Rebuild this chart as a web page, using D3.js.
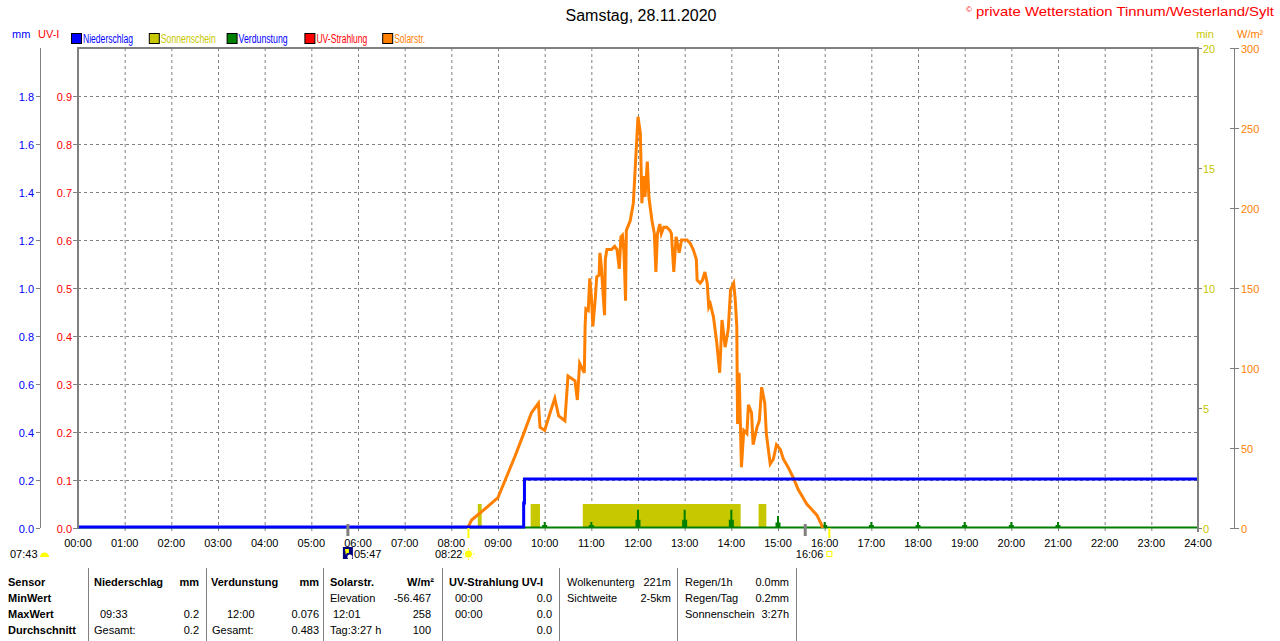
<!DOCTYPE html>
<html>
<head>
<meta charset="utf-8">
<script src="https://cdn.jsdelivr.net/npm/d3@7"></script>
<style>
body { margin: 0; background: #fff; }
svg { display: block; font-family: "Liberation Sans", Arial, sans-serif; font-size: 11px; }
</style>
</head>
<body>
<script>
const width = 1280
const height = 641

// Solarstrahlung, [Minute des Tages, W/m²]
const solar = [
  [501, 0], [506, 5], [521, 11], [540, 19], [551, 32], [562, 45], [573, 59], [583, 72],
  [592, 78], [594, 63], [600, 61], [607, 72], [613, 81], [618, 70], [626, 67], [630, 95],
  [639, 92], [642, 80], [645, 103], [651, 97], [652, 126], [653, 137], [656, 136], [658, 156],
  [660, 145], [662, 126], [665, 143], [667, 157], [670, 158], [671, 172], [673, 163], [675, 147],
  [677, 133], [678, 168], [680, 174], [686, 174], [690, 176], [693, 174], [696, 162], [698, 182],
  [700, 183], [702, 172], [704, 142], [705, 186], [710, 192], [714, 203], [717, 230], [720, 257],
  [723, 247], [725, 203], [727, 220], [729, 207], [732, 229], [734, 207], [735, 203], [738, 192],
  [741, 184], [743, 160], [745, 184], [748, 190], [750, 184], [753, 188], [757, 188], [761, 186],
  [763, 184], [766, 160], [769, 182], [773, 172], [776, 180], [783, 180], [787, 178], [791, 174],
  [795, 168], [796, 155], [800, 153], [803, 155], [806, 160], [809, 153], [811, 138], [813, 140],
  [817, 132], [821, 117], [825, 97], [828, 130], [832, 113], [836, 124], [839, 149], [843, 153],
  [845, 143], [847, 126], [848, 65], [850, 97], [853, 38], [856, 61], [860, 59], [862, 77],
  [866, 72], [868, 52], [873, 63], [876, 67], [879, 88], [883, 78], [885, 59], [890, 40],
  [894, 43], [898, 52], [903, 49], [907, 43], [913, 38], [920, 31], [926, 24], [937, 15],
  [950, 8], [956, 2], [957, 0]
]

// Niederschlag (kumuliert), [Minute, mm]
const rain = [[0, 0], [572, 0], [573, 0.1], [574, 0.2], [1440, 0.2]]

// Sonnenschein, [von, bis, min]
const sunshine = [[514, 519, 1], [582, 594, 1], [649, 852, 1], [875, 885, 1]]

// Verdunstung pro Stunde, [Minute, mm]
const evap = [
  [600, 0.025], [660, 0.025], [720, 0.076], [780, 0.076], [840, 0.076], [900, 0.05],
  [960, 0.025], [1020, 0.025], [1080, 0.025], [1140, 0.025], [1200, 0.025], [1260, 0.025]
]

const mmTicks = [0, 0.2, 0.4, 0.6, 0.8, 1.0, 1.2, 1.4, 1.6, 1.8]
const uvTicks = [0, 0.1, 0.2, 0.3, 0.4, 0.5, 0.6, 0.7, 0.8, 0.9]
const minTicks = [0, 5, 10, 15, 20]
const wTicks = [0, 50, 100, 150, 200, 250, 300]
const hourTicks = d3.range(0, 25)

const legend = [
  { name: "Niederschlag", color: "#0000ff", text: "#0000ff", w: 50 },
  { name: "Sonnenschein", color: "#c8c800", text: "#c8c800", w: 55 },
  { name: "Verdunstung", color: "#008000", text: "#0000ff", w: 49 },
  { name: "UV-Strahlung", color: "#ff0000", text: "#ff0000", w: 51 },
  { name: "Solarstr.", color: "#ff8000", text: "#ff8000", w: 31 }
]

// Sonne / Mond
const sunrise = 502, sunset = 966
const moonMarks = [347, 935]

const tableRows = ["Sensor", "MinWert", "MaxWert", "Durchschnitt"]
const tableCells = [
  // [Zeile, Text, x, Ausrichtung, fett]
  [0, "Niederschlag", 94, "start", true], [0, "mm", 199, "end", true],
  [0, "Verdunstung", 211, "start", true], [0, "mm", 319, "end", true],
  [0, "Solarstr.", 330, "start", true], [0, "W/m²", 434, "end", true],
  [0, "UV-Strahlung UV-I", 449, "start", true],
  [0, "Wolkenunterg", 567, "start"], [0, "221m", 671, "end"],
  [0, "Regen/1h", 685, "start"], [0, "0.0mm", 789, "end"],
  [1, "Elevation", 330, "start"], [1, "-56.467", 431, "end"],
  [1, "00:00", 455, "start"], [1, "0.0", 552, "end"],
  [1, "Sichtweite", 567, "start"], [1, "2-5km", 671, "end"],
  [1, "Regen/Tag", 685, "start"], [1, "0.2mm", 789, "end"],
  [2, "09:33", 100, "start"], [2, "0.2", 199, "end"],
  [2, "12:00", 227, "start"], [2, "0.076", 319, "end"],
  [2, "12:01", 333, "start"], [2, "258", 431, "end"],
  [2, "00:00", 455, "start"], [2, "0.0", 552, "end"],
  [2, "Sonnenschein", 685, "start"], [2, "3:27h", 789, "end"],
  [3, "Gesamt:", 94, "start"], [3, "0.2", 199, "end"],
  [3, "Gesamt:", 212, "start"], [3, "0.483", 319, "end"],
  [3, "Tag:3:27 h", 330, "start"], [3, "100", 431, "end"],
  [3, "0.0", 552, "end"]
]
const tableSeps = [88, 206, 323, 442, 559, 677, 796]

const svg = d3.select("body").append("svg")
    .attr("width", width)
    .attr("height", height)

const pLeft = 78, pRight = 1198, pTop = 48, pBottom = 528
const grey = "#808080"

const x = d3.scaleLinear().domain([0, 1440]).range([pLeft, pRight])
const yMM = d3.scaleLinear().domain([0, 2]).range([pBottom, pTop])
const yUV = d3.scaleLinear().domain([0, 1]).range([pBottom, pTop])
const yMin = d3.scaleLinear().domain([0, 20]).range([pBottom, pTop])
const yW = d3.scaleLinear().domain([0, 300]).range([pBottom, pTop])

// Titel
svg.append("text").attr("x", 641).attr("y", 21).attr("text-anchor", "middle")
    .style("font-size", "16px").attr("textLength", 151).text("Samstag, 28.11.2020")
svg.append("text").attr("x", 1274).attr("y", 16).attr("text-anchor", "end")
    .attr("fill", "#ff0000").style("font-size", "13px")
    .attr("textLength", 298).attr("lengthAdjust", "spacingAndGlyphs")
    .text("private Wetterstation Tinnum/Westerland/Sylt")
svg.append("text").attr("x", 966).attr("y", 12).attr("fill", "#ff0000")
    .style("font-size", "8px").text("©")

// Einheiten
svg.append("text").attr("x", 12).attr("y", 38).attr("fill", "#0000ff").text("mm")
svg.append("text").attr("x", 38).attr("y", 38).attr("fill", "#ff0000").text("UV-I")
svg.append("text").attr("x", 1205).attr("y", 38).attr("text-anchor", "middle").attr("fill", "#c8c800").text("min")
svg.append("text").attr("x", 1237).attr("y", 38).attr("fill", "#ff8000").text("W/m²")

// Legende
legend.forEach((d, i) => {
  const lx = 71 + i * 77.8
  svg.append("rect").attr("x", lx + 0.5).attr("y", 33.5).attr("width", 10).attr("height", 10)
      .attr("fill", d.color).attr("stroke", "#000")
  svg.append("text").attr("x", lx + 12).attr("y", 42.5).attr("fill", d.text)
      .style("font-size", "12px")
      .attr("textLength", d.w).attr("lengthAdjust", "spacingAndGlyphs").text(d.name)
})

// Gitter
svg.append("g").selectAll("line").data(hourTicks.slice(1, 24)).join("line")
    .attr("x1", d => x(d * 60) + 0.5).attr("x2", d => x(d * 60) + 0.5)
    .attr("y1", pTop).attr("y2", pBottom + 4)
    .attr("stroke", grey).attr("stroke-dasharray", "3,3")
svg.append("g").selectAll("line").data(mmTicks.slice(1)).join("line")
    .attr("x1", pLeft).attr("x2", pRight)
    .attr("y1", d => yMM(d) + 0.5).attr("y2", d => yMM(d) + 0.5)
    .attr("stroke", grey).attr("stroke-dasharray", "3,3")

// Sonnenschein
svg.append("g").selectAll("rect").data(sunshine).join("rect")
    .attr("x", d => x(d[0])).attr("width", d => x(d[1]) - x(d[0]))
    .attr("y", d => yMin(d[2])).attr("height", d => yMin(0) - yMin(d[2]))
    .attr("fill", "#c8c800")

// Verdunstung
svg.append("line").attr("x1", pLeft).attr("x2", pRight).attr("y1", pBottom - 0.5).attr("y2", pBottom - 0.5)
    .attr("stroke", "#008000").attr("stroke-width", 2)
svg.append("g").selectAll("path").data(evap).join("path")
    .attr("fill", "#008000")
    .attr("d", d => {
      const cx = x(d[0]), h = yMM(0) - yMM(d[1]), lowH = Math.max(3, h * 0.45)
      return `M${cx - 2.5},${pBottom}V${pBottom - lowH}H${cx - 1}V${pBottom - h}H${cx + 1}V${pBottom - lowH}H${cx + 2.5}V${pBottom}Z`
    })

// Solarstrahlung
svg.append("path").datum(solar)
    .attr("fill", "none").attr("stroke", "#ff8000").attr("stroke-width", 3)
    .attr("d", d3.line().x(d => x(d[0])).y(d => yW(d[1])))

// Niederschlag
svg.append("path").datum(rain)
    .attr("fill", "none").attr("stroke", "#0000ff").attr("stroke-width", 3)
    .attr("d", d3.line().curve(d3.curveStepAfter).x(d => x(d[0])).y(d => yMM(d[1]) - 1))

// Rahmen
svg.append("path").attr("d", `M${pLeft},${pBottom}V${pTop}H${pRight}V${pBottom + 4}`)
    .attr("fill", "none").attr("stroke", grey).attr("stroke-width", 2)

// Achse mm
svg.append("line").attr("x1", 40.5).attr("x2", 40.5).attr("y1", pTop).attr("y2", pBottom)
    .attr("stroke", grey)
const gmm = svg.append("g").selectAll("g").data(mmTicks).join("g")
    .attr("transform", d => `translate(0,${yMM(d) + 0.5})`)
gmm.append("line").attr("x1", 36).attr("x2", 40).attr("stroke", grey)
gmm.append("text").attr("x", 34).attr("y", 4).attr("text-anchor", "end")
    .attr("fill", "#0000ff").text(d => d.toFixed(1))

// Achse UV-I
const guv = svg.append("g").selectAll("g").data(uvTicks).join("g")
    .attr("transform", d => `translate(0,${yUV(d) + 0.5})`)
guv.append("line").attr("x1", 73).attr("x2", 78).attr("stroke", grey)
guv.append("text").attr("x", 72).attr("y", 4).attr("text-anchor", "end")
    .attr("fill", "#ff0000").text(d => d.toFixed(1))

// Achse min
const gmin = svg.append("g").selectAll("g").data(minTicks).join("g")
    .attr("transform", d => `translate(0,${yMin(d) + 0.5})`)
gmin.append("line").attr("x1", 1198).attr("x2", 1202).attr("stroke", grey)
gmin.append("text").attr("x", 1203).attr("y", 4).attr("fill", "#c8c800").text(d => d)

// Achse W/m²
svg.append("line").attr("x1", 1234.5).attr("x2", 1234.5).attr("y1", pTop).attr("y2", pBottom)
    .attr("stroke", grey)
const gw = svg.append("g").selectAll("g").data(wTicks).join("g")
    .attr("transform", d => `translate(0,${yW(d) + 0.5})`)
gw.append("line").attr("x1", 1230).attr("x2", 1239).attr("stroke", grey)
gw.append("text").attr("x", 1241).attr("y", 4).attr("fill", "#ff8000").text(d => d)

// Zeitachse
svg.append("g").selectAll("text").data(hourTicks).join("text")
    .attr("x", d => x(d * 60)).attr("y", 547).attr("text-anchor", "middle")
    .text(d => d3.format("02")(d) + ":00")

// Sonne / Mond Markierungen
svg.append("g").selectAll("rect").data(moonMarks).join("rect")
    .attr("x", d => x(d) - 1.5).attr("y", 524).attr("width", 3).attr("height", 12).attr("fill", grey)
svg.append("g").selectAll("rect").data([sunrise, sunset]).join("rect")
    .attr("x", d => x(d) - 1).attr("y", 528).attr("width", 2).attr("height", 10).attr("fill", "#ffff00")

// 07:43 Mond
svg.append("text").attr("x", 10).attr("y", 558).text("07:43")
svg.append("path").attr("d", "M40,557 A4.5,4.5 0 0 1 49,557 Z").attr("fill", "#ffff00")
// 05:47 Mond
svg.append("rect").attr("x", x(moonMarks[0]) - 5).attr("y", 547).attr("width", 10).attr("height", 12).attr("fill", "#000080")
svg.append("path").attr("d", `M${x(moonMarks[0]) - 3},549 h4 v4 h-2 l-1,2 z`).attr("fill", "#ffff00")
svg.append("circle").attr("cx", x(moonMarks[0]) + 2).attr("cy", 557).attr("r", 2.5).attr("fill", "#fff")
svg.append("text").attr("x", x(moonMarks[0]) + 6).attr("y", 558).text("05:47")
// 08:22 Aufgang
svg.append("text").attr("x", x(sunrise) - 6).attr("y", 558).attr("text-anchor", "end").text("08:22")
svg.append("circle").attr("cx", x(sunrise)).attr("cy", 554).attr("r", 3.5).attr("fill", "#ffff00")
svg.append("g").selectAll("line").data(d3.range(8)).join("line")
    .attr("x1", d => x(sunrise) + Math.cos(d * Math.PI / 4) * 4.5)
    .attr("y1", d => 554 + Math.sin(d * Math.PI / 4) * 4.5)
    .attr("x2", d => x(sunrise) + Math.cos(d * Math.PI / 4) * 6)
    .attr("y2", d => 554 + Math.sin(d * Math.PI / 4) * 6)
    .attr("stroke", "#ffff00")
// 16:06 Untergang
svg.append("text").attr("x", x(sunset) - 6).attr("y", 558).attr("text-anchor", "end").text("16:06")
svg.append("rect").attr("x", x(sunset) - 2.5).attr("y", 551.5).attr("width", 5).attr("height", 5)
    .attr("fill", "none").attr("stroke", "#ffff00")

// Tabelle
svg.append("g").selectAll("line").data(tableSeps).join("line")
    .attr("x1", d => d + 0.5).attr("x2", d => d + 0.5).attr("y1", 568).attr("y2", 641)
    .attr("stroke", grey)
const rowY = [586, 602, 618, 634]
svg.append("g").selectAll("text").data(tableRows).join("text")
    .attr("x", 8).attr("y", (d, i) => rowY[i]).style("font-weight", "bold").text(d => d)
svg.append("g").selectAll("text").data(tableCells).join("text")
    .attr("x", d => d[2]).attr("y", d => rowY[d[0]])
    .attr("text-anchor", d => d[3])
    .style("font-weight", d => d[4] ? "bold" : "normal")
    .text(d => d[1])
</script>
</body>
</html>
